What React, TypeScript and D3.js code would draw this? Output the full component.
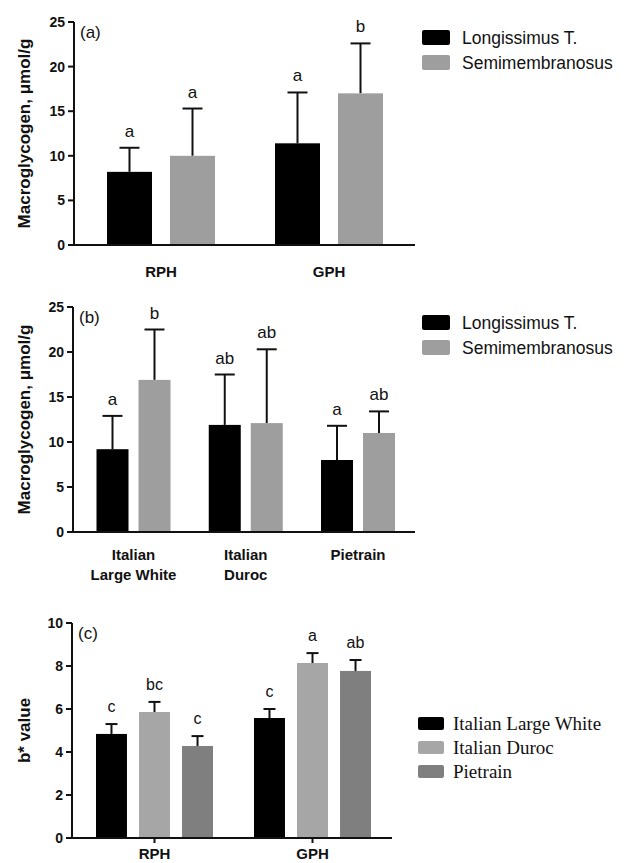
import React from "react";
import * as d3 from "d3";

// ---------- Data ----------
const muscles = ["Longissimus T.", "Semimembranosus"];

const groupsA = ["RPH", "GPH"];
const meanA_LT = [8.2, 11.4];
const errA_LT = [2.7, 5.7];
const meanA_SM = [10.0, 17.0];
const errA_SM = [5.3, 5.6];
const letA_LT = ["a", "a"];
const letA_SM = ["a", "b"];

const groupsB = ["Italian|Large White", "Italian|Duroc", "Pietrain"];
const meanB_LT = [9.2, 11.9, 8.0];
const errB_LT = [3.7, 5.6, 3.8];
const meanB_SM = [16.9, 12.1, 11.0];
const errB_SM = [5.6, 8.2, 2.4];
const letB_LT = ["a", "ab", "a"];
const letB_SM = ["b", "ab", "ab"];

const breeds = ["Italian Large White", "Italian Duroc", "Pietrain"];
const groupsC = ["RPH", "GPH"];
const meanC_ILW = [4.84, 5.58];
const errC_ILW = [0.46, 0.42];
const meanC_DUR = [5.86, 8.14];
const errC_DUR = [0.47, 0.46];
const meanC_PIE = [4.28, 7.77];
const errC_PIE = [0.46, 0.51];
const letC_ILW = ["c", "c"];
const letC_DUR = ["bc", "a"];
const letC_PIE = ["c", "ab"];

const ticksMacro = [0, 5, 10, 15, 20, 25];
const ticksB = [0, 2, 4, 6, 8, 10];

const SANS = "'Liberation Sans', Arial, sans-serif";
const SERIF = "'Liberation Serif', 'Times New Roman', serif";

type Series = { name: string; color: string; mean: number[]; err: number[]; letters: string[] };

type PanelProps = {
  tag: string;
  ylabel: string;
  groups: string[];
  series: Series[];
  yMax: number;
  ticks: number[];
  yPx: [number, number]; // bottom, top pixel
  axisX: [number, number];
  groupPx: [number, number];
  innerWidth: number;
  innerPad: number;
  capW: number;
  catY: number;
  catTicks: boolean;
  letterSize: number;
  letterGap: number;
  legend: { x: number; y: number; sw: number; sh: number; step: number; font: string; size: number; textX: number };
};

function Panel(p: PanelProps) {
  const y = d3.scaleLinear().domain([0, p.yMax]).range(p.yPx);
  const gx = d3.scalePoint<string>().domain(p.groups).range(p.groupPx);
  const inner = d3
    .scaleBand<string>()
    .domain(p.series.map((s) => s.name))
    .range([-p.innerWidth / 2, p.innerWidth / 2])
    .paddingInner(p.innerPad);
  const bw = inner.bandwidth();
  const y0 = y(0);
  const [ax0, ax1] = p.axisX;
  const midY = (p.yPx[0] + p.yPx[1]) / 2;
  return (
    <g>
      {/* bars */}
      {p.series.map((s) =>
        p.groups.map((g, i) => {
          const x = (gx(g) as number) + (inner(s.name) as number);
          const cx = x + bw / 2;
          const top = y(s.mean[i]);
          const et = y(s.mean[i] + s.err[i]);
          return (
            <g key={s.name + g}>
              <line x1={cx} x2={cx} y1={top} y2={et} stroke="#111" strokeWidth={2} />
              <line x1={cx - p.capW / 2} x2={cx + p.capW / 2} y1={et} y2={et} stroke="#111" strokeWidth={2} />
              <rect x={x} y={top} width={bw} height={y0 - top} fill={s.color} />
              <text x={cx} y={et - p.letterGap} textAnchor="middle" fontFamily={SANS} fontSize={p.letterSize} fill="#111">
                {s.letters[i]}
              </text>
            </g>
          );
        })
      )}
      {/* axes */}
      <line x1={ax0} x2={ax1} y1={y0} y2={y0} stroke="#111" strokeWidth={2} />
      <line x1={ax0} x2={ax0} y1={y0 + 1} y2={p.yPx[1]} stroke="#111" strokeWidth={2} />
      {p.ticks.map((t) => (
        <g key={t}>
          <line x1={ax0 - 6} x2={ax0} y1={y(t)} y2={y(t)} stroke="#111" strokeWidth={2} />
          <text
            x={ax0 - 9}
            y={y(t)}
            dy="0.36em"
            textAnchor="end"
            fontFamily={SANS}
            fontWeight="bold"
            fontSize={14}
            fill="#111"
          >
            {t}
          </text>
        </g>
      ))}
      {p.catTicks &&
        p.groups.map((g) => (
          <line key={g} x1={gx(g) as number} x2={gx(g) as number} y1={y0} y2={y0 + 5} stroke="#111" strokeWidth={2} />
        ))}
      {p.groups.map((g) => {
        const lines = g.split("|");
        return (
          <text
            key={g}
            x={gx(g) as number}
            y={p.catY}
            textAnchor="middle"
            fontFamily={SANS}
            fontWeight="bold"
            fontSize={15}
            fill="#111"
          >
            {lines.map((l, k) => (
              <tspan key={k} x={gx(g) as number} dy={k === 0 ? 0 : 20}>
                {l}
              </tspan>
            ))}
          </text>
        );
      })}
      <text x={ax0 + 6} y={p.yPx[1] + 16} fontFamily={SANS} fontSize={17} fill="#111">
        {p.tag}
      </text>
      <text
        transform={`translate(24,${midY}) rotate(-90)`}
        dy="0.36em"
        textAnchor="middle"
        fontFamily={SANS}
        fontWeight="bold"
        fontSize={17}
        fill="#111"
      >
        {p.ylabel}
      </text>
      {/* legend */}
      {p.series.map((s, k) => (
        <g key={"lg" + s.name}>
          <rect
            x={p.legend.x}
            y={p.legend.y + k * p.legend.step}
            width={p.legend.sw}
            height={p.legend.sh}
            fill={s.color}
            rx={2}
          />
          <text
            x={p.legend.textX}
            y={p.legend.y + k * p.legend.step + p.legend.sh / 2}
            dy="0.35em"
            fontFamily={p.legend.font}
            fontSize={p.legend.size}
            fill="#111"
          >
            {s.name}
          </text>
        </g>
      ))}
    </g>
  );
}

export default function App() {
  const seriesA: Series[] = [
    { name: muscles[0], color: "#000000", mean: meanA_LT, err: errA_LT, letters: letA_LT },
    { name: muscles[1], color: "#9e9e9e", mean: meanA_SM, err: errA_SM, letters: letA_SM },
  ];
  const seriesB: Series[] = [
    { name: muscles[0], color: "#000000", mean: meanB_LT, err: errB_LT, letters: letB_LT },
    { name: muscles[1], color: "#9e9e9e", mean: meanB_SM, err: errB_SM, letters: letB_SM },
  ];
  const seriesC: Series[] = [
    { name: breeds[0], color: "#000000", mean: meanC_ILW, err: errC_ILW, letters: letC_ILW },
    { name: breeds[1], color: "#a6a6a6", mean: meanC_DUR, err: errC_DUR, letters: letC_DUR },
    { name: breeds[2], color: "#7f7f7f", mean: meanC_PIE, err: errC_PIE, letters: letC_PIE },
  ];
  return (
    <svg
      width={626}
      height={863}
      style={{ position: "absolute", left: 0, top: 0, background: "#fff" }}
    >
      <rect width={626} height={863} fill="#fff" />
      <Panel
        tag="(a)"
        ylabel="Macroglycogen, μmol/g"
        groups={groupsA}
        series={seriesA}
        yMax={25}
        ticks={ticksMacro}
        yPx={[245, 22]}
        axisX={[74, 415]}
        groupPx={[161, 329]}
        innerWidth={108}
        innerPad={0.286}
        capW={20}
        catY={277}
        catTicks={false}
        letterSize={17}
        letterGap={11}
        legend={{ x: 422, y: 30, sw: 28, sh: 15, step: 25, font: SANS, size: 17.5, textX: 462 }}
      />
      <Panel
        tag="(b)"
        ylabel="Macroglycogen, μmol/g"
        groups={groupsB}
        series={seriesB}
        yMax={25}
        ticks={ticksMacro}
        yPx={[532, 307]}
        axisX={[73, 415]}
        groupPx={[133.5, 358]}
        innerWidth={74}
        innerPad={0.238}
        capW={20}
        catY={560}
        catTicks={false}
        letterSize={17}
        letterGap={11}
        legend={{ x: 422, y: 315, sw: 28, sh: 15, step: 25, font: SANS, size: 17.5, textX: 462 }}
      />
      <Panel
        tag="(c)"
        ylabel="b* value"
        groups={groupsC}
        series={seriesC}
        yMax={10}
        ticks={ticksB}
        yPx={[838, 623]}
        axisX={[72, 392]}
        groupPx={[154.5, 312.5]}
        innerWidth={117}
        innerPad={0.28}
        capW={12}
        catY={859}
        catTicks={true}
        letterSize={16}
        letterGap={12}
        legend={{ x: 418, y: 717, sw: 26, sh: 13, step: 24, font: SERIF, size: 19, textX: 453 }}
      />
    </svg>
  );
}
